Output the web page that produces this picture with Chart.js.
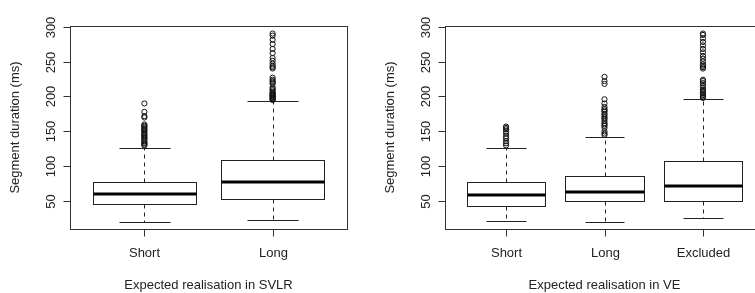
<!DOCTYPE html>
<html>
<head>
<meta charset="utf-8">
<script src="https://cdn.jsdelivr.net/npm/chart.js@4.4.1/dist/chart.umd.min.js"></script>
<style>
  html, body { margin: 0; padding: 0; background: #fff; overflow: hidden; }
  #wrap { position: relative; width: 755px; height: 293px; overflow: hidden; }
  .pane { position: absolute; top: 0; height: 293px; }
</style>
</head>
<body>
<div id="wrap">
  <div class="pane" style="left:0;width:375px"><canvas id="svlr"></canvas></div>
  <div class="pane" style="left:375px;width:400px"><canvas id="ve"></canvas></div>
</div>
<script>
// y axis ticks shared by both panels
const yTicks = [50, 100, 150, 200, 250, 300];

// left panel: expected realisation in SVLR
const svlrLabels = ['Short', 'Long'];
const svlrMin = [20.5, 24];
const svlrQ1 = [46, 54];
const svlrMedian = [60, 78];
const svlrQ3 = [78, 109];
const svlrMax = [127, 193];
const svlrOutShort = [130, 131, 133, 134, 136, 138, 140, 141, 143, 145, 146, 148, 150, 152, 153, 155, 157, 158, 160, 170, 172, 178, 190];
const svlrOutLong = [195, 196, 197, 198, 199, 200, 201, 202, 203, 204, 205, 207, 209, 211, 213, 218, 220, 222, 224, 227, 240, 242, 244, 247, 251, 255, 262, 268, 275, 281, 287, 290];

// right panel: expected realisation in VE
const veLabels = ['Short', 'Long', 'Excluded'];
const veMin = [22, 20.5, 26.5];
const veQ1 = [44, 50, 50];
const veMedian = [58.5, 63, 72];
const veQ3 = [78, 87, 108];
const veMax = [127, 142.5, 196];
const veOutShort = [130, 133, 136, 140, 143, 147, 150, 153, 155, 157];
const veOutLong = [145, 147, 150, 155, 158, 160, 162, 165, 168, 170, 173, 175, 178, 180, 182, 185, 190, 196, 218, 222, 228];
const veOutExcluded = [198, 200, 202, 204, 206, 208, 210, 213, 216, 219, 222, 224, 240, 242, 244, 246, 250, 254, 258, 263, 268, 273, 278, 283, 288, 290];

const FONT = '13px "Liberation Sans", Arial, sans-serif';
const INK = '#222';

function crisp(v) { return Math.round(v) + 0.5; }

function seg(ctx, x1, y1, x2, y2) {
    ctx.beginPath();
    ctx.moveTo(x1, y1);
    ctx.lineTo(x2, y2);
    ctx.stroke();
}

const boxPlot = {
    id: 'boxPlot',
    beforeDatasetsDraw(chart, args, opts) {
        const { ctx, scales: { x, y } } = chart;
        const py = v => crisp(y.getPixelForValue(v));
        ctx.save();
        opts.median.forEach((m, i) => {
            const c = i + 1;
            const xl = crisp(x.getPixelForValue(c - 0.4));
            const xr = crisp(x.getPixelForValue(c + 0.4));
            const cl = crisp(x.getPixelForValue(c - 0.2));
            const cr = crisp(x.getPixelForValue(c + 0.2));
            const xc = crisp(x.getPixelForValue(c));
            ctx.strokeStyle = INK;
            ctx.lineWidth = 1;
            ctx.setLineDash([4, 4]);
            seg(ctx, xc, py(opts.q3[i]), xc, py(opts.max[i]));
            seg(ctx, xc, py(opts.q1[i]), xc, py(opts.min[i]));
            ctx.setLineDash([]);
            seg(ctx, cl, py(opts.max[i]), cr, py(opts.max[i]));
            seg(ctx, cl, py(opts.min[i]), cr, py(opts.min[i]));
            ctx.strokeRect(xl, py(opts.q3[i]), xr - xl, py(opts.q1[i]) - py(opts.q3[i]));
            ctx.strokeStyle = '#000';
            ctx.lineWidth = 3;
            const ym = Math.round(y.getPixelForValue(m));
            seg(ctx, xl, ym, xr, ym);
        });
        ctx.restore();
    }
};

const rFrame = {
    id: 'rFrame',
    afterDraw(chart, args, opts) {
        const { ctx, chartArea: a, scales: { x, y } } = chart;
        ctx.save();
        ctx.strokeStyle = '#333';
        ctx.lineWidth = 1;
        ctx.strokeRect(crisp(a.left), crisp(a.top), Math.round(a.right - a.left), Math.round(a.bottom - a.top));
        ctx.fillStyle = INK;
        ctx.font = FONT;
        ctx.textAlign = 'center';
        ctx.textBaseline = 'middle';
        // y ticks and rotated labels
        yTicks.forEach(t => {
            const ty = crisp(y.getPixelForValue(t));
            seg(ctx, crisp(a.left) - 7, ty, crisp(a.left), ty);
            ctx.save();
            ctx.translate(a.left - 19, ty);
            ctx.rotate(-Math.PI / 2);
            ctx.fillText(String(t), 0, 0);
            ctx.restore();
        });
        // x ticks and labels
        opts.labels.forEach((lab, i) => {
            const tx = crisp(x.getPixelForValue(i + 1));
            seg(ctx, tx, crisp(a.bottom), tx, crisp(a.bottom) + 7);
            ctx.fillText(lab, tx, 253);
        });
        ctx.fillText(opts.xTitle, (a.left + x.getPixelForValue(opts.labels.length + 0.5 + 0.04 * opts.labels.length)) / 2, 285);
        ctx.save();
        ctx.translate(15, (a.top + a.bottom) / 2);
        ctx.rotate(-Math.PI / 2);
        ctx.fillText('Segment duration (ms)', 0, 0);
        ctx.restore();
        ctx.restore();
    }
};

function outlierData(lists) {
    const pts = [];
    lists.forEach((list, i) => list.forEach(v => pts.push({ x: i + 1, y: v })));
    return pts;
}

function makeChart(id, labels, stats, outliers, xTitle, padRight) {
    const n = labels.length;
    new Chart(document.getElementById(id), {
        type: 'scatter',
        data: {
            datasets: [{
                data: outlierData(outliers),
                pointStyle: 'circle',
                pointRadius: 2.6,
                pointHoverRadius: 2.6,
                borderColor: '#111',
                backgroundColor: 'rgba(0,0,0,0)',
                borderWidth: 1
            }]
        },
        options: {
            responsive: true,
            maintainAspectRatio: false,
            animation: false,
            events: [],
            layout: { padding: { left: 70, right: padRight, top: 26, bottom: 64 } },
            scales: {
                x: { type: 'linear', display: false, min: 0.5 - 0.04 * n, max: n + 0.5 + 0.04 * n },
                y: { type: 'linear', display: false, min: 10.5, max: 300.8 }
            },
            plugins: {
                legend: { display: false },
                tooltip: { enabled: false },
                boxPlot: stats,
                rFrame: { labels: labels, xTitle: xTitle }
            }
        },
        plugins: [boxPlot, rFrame]
    });
}

makeChart('svlr', svlrLabels,
    { min: svlrMin, q1: svlrQ1, median: svlrMedian, q3: svlrQ3, max: svlrMax },
    [svlrOutShort, svlrOutLong], 'Expected realisation in SVLR', 28);

makeChart('ve', veLabels,
    { min: veMin, q1: veQ1, median: veMedian, q3: veQ3, max: veMax },
    [veOutShort, veOutLong, veOutExcluded], 'Expected realisation in VE', 11);
</script>
</body>
</html>
